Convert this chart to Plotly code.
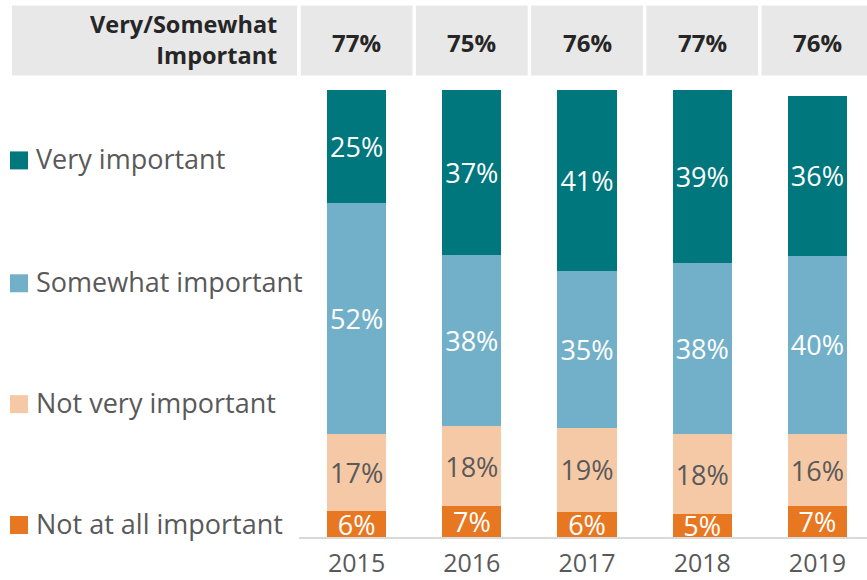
import plotly.graph_objects as go

years = ["2015", "2016", "2017", "2018", "2019"]
series_names = ["Not at all important", "Not very important", "Somewhat important", "Very important"]
not_at_all = [5.8, 6.9, 5.6, 5.1, 6.9]
not_very = [17.2, 17.9, 18.9, 17.9, 16.1]
somewhat = [51.9, 38.3, 35.1, 38.3, 40.0]
very = [25.1, 36.9, 40.6, 38.7, 35.8]
header_label = "Very/Somewhat<br>Important"

colors = ["#E87722", "#F6C9A6", "#72B0C9", "#00767D"]
text_colors = ["white", "#595959", "white", "white"]
values = [not_at_all, not_very, somewhat, very]

W, H = 867, 580
L, R, T, B = 299, 0, 85.5, 43
plot_w = W - L - R
plot_h = H - T - B

def px_x(px):
    return (px - L) / plot_w

def px_y(py):
    return (H - B - py) / plot_h

FONT = "Open Sans"
fig = go.Figure()
for name, vals, col, tcol in zip(series_names, values, colors, text_colors):
    fig.add_trace(go.Bar(
        x=list(range(len(years))), y=vals, name=name,
        marker=dict(color=col, line=dict(width=0)),
        width=0.513,
        text=[f"{round(v)}%" for v in vals],
        textposition="inside", insidetextanchor="middle", textangle=0,
        textfont=dict(family=FONT, size=27, color=tcol),
        hoverinfo="skip", showlegend=False,
    ))

shapes = []
annotations = []
# header boxes
shapes.append(dict(type="rect", xref="paper", yref="paper",
                   x0=px_x(12), x1=px_x(297), y0=px_y(75), y1=px_y(5),
                   fillcolor="#E8E8E8", line=dict(width=0), layer="below"))
annotations.append(dict(xref="paper", yref="paper", x=px_x(279), y=px_y(39),
                        xanchor="right", yanchor="middle", align="right",
                        text=f"<b>{header_label}</b>", showarrow=False,
                        font=dict(family=FONT, size=23.5, color="#262626")))
for i in range(len(years)):
    total = round(very[i] + somewhat[i])
    shapes.append(dict(type="rect", xref="x", yref="paper",
                       x0=i - 0.485, x1=i + 0.485, y0=px_y(75), y1=px_y(5),
                       fillcolor="#E8E8E8", line=dict(width=0), layer="below"))
    annotations.append(dict(xref="x", yref="paper", x=i, y=px_y(42),
                            xanchor="center", yanchor="middle",
                            text=f"<b>{total}%</b>", showarrow=False,
                            font=dict(family=FONT, size=24, color="#262626")))

# legend (left side)
legend_y = [525, 404, 283, 160]
for name, col, yy in zip(series_names, colors, legend_y):
    shapes.append(dict(type="rect", xref="paper", yref="paper",
                       x0=px_x(10), x1=px_x(28), y0=px_y(yy + 9), y1=px_y(yy - 9),
                       fillcolor=col, line=dict(width=0)))
    annotations.append(dict(xref="paper", yref="paper", x=px_x(34), y=px_y(yy - 2),
                            xanchor="left", yanchor="middle", text=name, showarrow=False,
                            font=dict(family=FONT, size=27, color="#595959")))

fig.update_layout(
    barmode="stack",
    width=W, height=H,
    margin=dict(l=L, r=R, t=T, b=B, autoexpand=False),
    plot_bgcolor="white", paper_bgcolor="white",
    shapes=shapes, annotations=annotations,
    uniformtext=dict(minsize=27, mode="show"),
    xaxis=dict(range=[-0.5, 4.43], tickmode="array", tickvals=list(range(len(years))),
               ticktext=years, showgrid=False, zeroline=False,
               showline=True, linecolor="#D9D9D9", linewidth=2, ticks="",
               ticklabelstandoff=3,
               tickfont=dict(family=FONT, size=25, color="#595959")),
    yaxis=dict(range=[0, 101], visible=False, showgrid=False, zeroline=False),
)

fig.write_html("out.html", config={"displayModeBar": False},
               post_script="document.body.style.margin='0px';document.body.style.padding='0px';")
